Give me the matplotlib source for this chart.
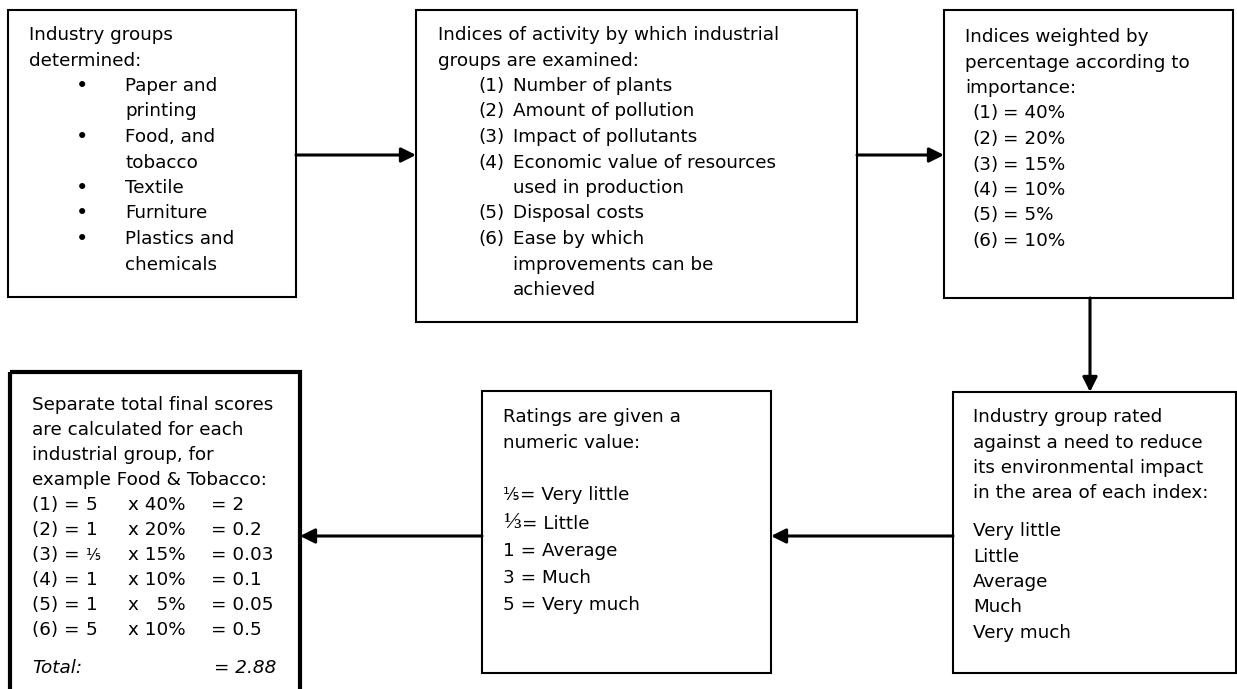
import matplotlib.pyplot as plt
from matplotlib.patches import Rectangle

# ---- text content ----
groups_head = ["Industry groups", "determined:"]
groups = [["Paper and", "printing"], ["Food, and", "tobacco"], ["Textile"],
          ["Furniture"], ["Plastics and", "chemicals"]]

indices_head = ["Indices of activity by which industrial", "groups are examined:"]
indices = [["Number of plants"], ["Amount of pollution"], ["Impact of pollutants"],
           ["Economic value of resources", "used in production"], ["Disposal costs"],
           ["Ease by which", "improvements can be", "achieved"]]

weights_head = ["Indices weighted by", "percentage according to", "importance:"]
weights = ["40%", "20%", "15%", "10%", "5%", "10%"]

rated_head = ["Industry group rated", "against a need to reduce",
              "its environmental impact", "in the area of each index:"]
rating_labels = ["Very little", "Little", "Average", "Much", "Very much"]

numeric_head = ["Ratings are given a", "numeric value:"]
rating_values = ["\u2155", "\u2153", "1", "3", "5"]

score_head = ["Separate total final scores", "are calculated for each",
              "industrial group, for", "example Food & Tobacco:"]
score_rating = ["5", "1", "\u2155", "1", "1", "5"]
score_weight = ["x 40%", "x 20%", "x 15%", "x 10%", "x   5%", "x 10%"]
score_result = ["= 2", "= 0.2", "= 0.03", "= 0.1", "= 0.05", "= 0.5"]
score_total = "= 2.88"

fs = 13.2
step = 25.5

fig = plt.figure(figsize=(12.37, 6.89), dpi=100)
ax = fig.add_axes([0, 0, 1, 1])
ax.set_xlim(0, 1237)
ax.set_ylim(689, 0)
ax.axis("off")


def box(x0, y0, x1, y1, lw=1.5):
    ax.add_patch(Rectangle((x0, y0), x1 - x0, y1 - y0, fill=False,
                           lw=lw, ec="black", clip_on=False))


def txt(x, y, s, **kw):
    ax.text(x, y, s, fontsize=kw.pop("size", fs), va="center", ha=kw.pop("ha", "left"),
            color="black", **kw)


def arrow(x0, y0, x1, y1):
    ax.annotate("", xy=(x1, y1), xytext=(x0, y0),
                arrowprops=dict(arrowstyle="-|>", lw=2.2, color="black",
                                mutation_scale=22, shrinkA=0, shrinkB=0))


# ---- box 1: industry groups ----
box(8, 10, 296, 297)
y = 35
for line in groups_head:
    txt(29, y, line)
    y += step
for item in groups:
    txt(82, y, "\u2022", ha="center", size=fs + 2)
    for line in item:
        txt(125, y, line)
        y += step

# ---- box 2: indices ----
box(416, 10, 857, 322)
y = 35
for line in indices_head:
    txt(438, y, line)
    y += step
for i, item in enumerate(indices):
    txt(478, y, "(%d)" % (i + 1))
    for line in item:
        txt(513, y, line)
        y += step

# ---- box 3: weights ----
box(944, 10, 1233, 298)
y = 37
for line in weights_head:
    txt(965, y, line)
    y += step
for i, w in enumerate(weights):
    txt(972, y, "(%d)" % (i + 1))
    txt(1003, y, "= " + w)
    y += step

# ---- box 6: rated ----
box(953, 392, 1236, 673)
y = 417
for line in rated_head:
    txt(973, y, line)
    y += step
y += 12
for line in rating_labels:
    txt(973, y, line)
    y += step

# ---- box 5: numeric values ----
box(482, 391, 771, 673)
y = 417
for line in numeric_head:
    txt(503, y, line)
    y += step
y += step + 2
for v, lab in zip(rating_values, rating_labels):
    if v == "\u2155":
        txt(503, y, v, size=fs - 1)
        txt(520, y, "= " + lab)
    elif v == "\u2153":
        txt(503, y, v, size=fs + 4, family="Liberation Serif")
        txt(522, y + 1, "= " + lab)
    else:
        txt(503, y, v + " = " + lab)
    y += step + 2

# ---- box 4: final scores ----
box(10, 372, 300, 700, lw=3.0)
y = 405
for line in score_head:
    txt(32, y, line)
    y += step - 0.5
for i in range(len(score_rating)):
    txt(32, y, "(%d) =" % (i + 1))
    txt(86, y, score_rating[i], size=fs - 2 if score_rating[i] == "\u2155" else fs)
    txt(128, y, score_weight[i])
    txt(211, y, score_result[i])
    y += step - 0.5
txt(32, 668, "Total:", style="italic")
txt(276, 668, score_total, ha="right", style="italic")

# ---- arrows ----
arrow(296, 155, 416, 155)
arrow(857, 155, 944, 155)
arrow(1090, 298, 1090, 392)
arrow(953, 536, 771, 536)
arrow(482, 536, 300, 536)

fig.savefig("out.png", dpi=100)
